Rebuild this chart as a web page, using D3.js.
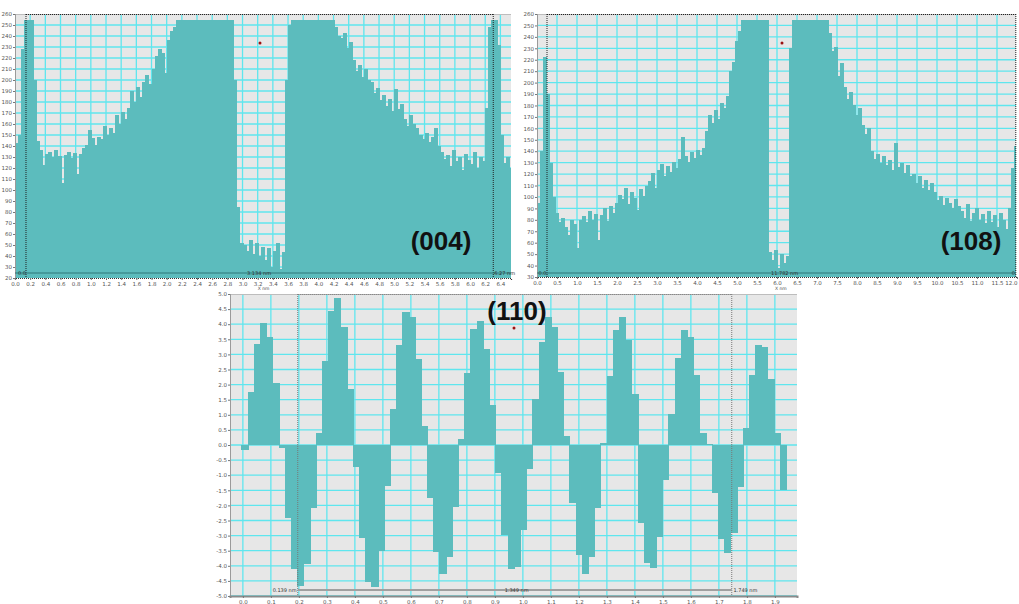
<!DOCTYPE html>
<html>
<head>
<meta charset="utf-8">
<script src="https://cdn.jsdelivr.net/npm/d3@7"></script>
<style>
  body { margin: 0; background: #fff; }
  svg { display: block; }
</style>
</head>
<body>
<svg id="chart" width="1019" height="604"></svg>
<script>
// ---------- (004) intensity profile ----------
const p004Step = 0.04;   // nm per sample
const p004Values = [
  143, 150, 228, 255, 255, 255, 200, 145,
  136, 123, 133, 135, 130, 136, 131, 106, 132, 135, 129, 134, 115, 133,
  138, 141, 155, 147, 141, 148, 146,
  158, 150, 156, 152,
  168, 160, 171, 165, 175,
  190, 180, 194, 185,
  198, 205, 196,
  210, 222, 228, 225, 206,
  236, 245, 248, 255,
  255, 255, 255, 255, 255, 255, 255, 255, 255, 255, 255, 255, 255, 255, 255, 255, 255, 255,
  200, 85, 52,
  50, 45, 55, 42, 52, 40, 48, 36, 47, 30, 45, 52, 28, 44,
  200, 250,
  255, 255, 255, 255, 255, 255, 255, 255, 255, 255, 255, 255, 255, 255, 248, 240,
  238, 243, 229, 235,
  218, 208, 214, 203, 210, 200,
  198, 188, 193, 182, 186,
  176, 183, 172, 192, 174, 178,
  165, 158, 168, 160, 156,
  150, 146, 152, 144, 148, 156, 140,
  135, 128, 132, 122, 136, 126, 130, 118, 133, 127, 124, 135, 120, 130, 126,
  175, 248, 255, 255, 232, 150, 125, 130, 120
];
const p004XTickLabels = ["0.0","0.2","0.4","0.6","0.8","1.0","1.2","1.4","1.6","1.8","2.0","2.2","2.4","2.6","2.8","3.0","3.2","3.4","3.6","3.8","4.0","4.2","4.4","4.6","4.8","5.0","5.2","5.4","5.6","5.8","6.0","6.2","6.4"];
const p004YTickLabels = ["20","30","40","50","60","70","80","90","100","110","120","130","140","150","160","170","180","190","200","210","220","230","240","250","260"];
const p004Cursors = [0.145, 6.306];
const p004Notes = ["0.0", "3.134 nm", "6.27 nm"];

// ---------- (108) intensity profile ----------
const p108Step = 0.075;  // nm per sample
const p108Values = [
  95, 140, 222, 190, 130, 100,
  86, 78, 82, 74, 67, 80, 76, 55, 80,
  83, 78, 88, 80, 85, 62, 84, 90, 79, 92, 86,
  95, 102, 98, 108, 94, 104, 99, 89, 107, 101, 110,
  114, 121, 108, 124, 129, 118, 127, 122, 131, 125, 133,
  152, 136, 131, 139, 134, 141, 137, 143,
  158, 172, 165, 176, 168, 182, 178, 188,
  210, 218, 236, 245,
  255, 255, 255, 255, 255, 255, 255, 255, 255,
  52, 45, 54, 38, 50, 42, 48,
  230,
  255, 255, 255, 255, 255, 255, 255, 255, 255, 255, 255, 255,
  243, 228, 231, 206, 217, 196, 186, 192, 180, 172, 178, 163, 155, 160,
  140, 133, 138, 130, 136, 128,
  132, 124, 147, 126, 130, 121, 128, 118,
  120, 112, 118, 108, 115, 106, 112,
  104, 97, 101, 93, 99, 95, 90, 98, 92,
  88, 82, 94, 79, 86, 90, 80, 85, 77, 88,
  78, 84, 74, 86, 80, 72, 90,
  125, 145
];
const p108XTickLabels = ["0.0","0.5","1.0","1.5","2.0","2.5","3.0","3.5","4.0","4.5","5.0","5.5","6.0","6.5","7.0","7.5","8.0","8.5","9.0","9.5","10.0","10.5","11.0","11.5","12.0"];
const p108YTickLabels = ["30","40","50","60","70","80","90","100","110","120","130","140","150","160","170","180","190","200","210","220","230","240","250","260"];
const p108Cursors = [0.25, 11.97];
const p108Notes = ["0.0", "11.782 nm", "0"];

// ---------- (110) line profile ----------
const p110Start = -0.005;
const p110Step = 0.0221; // nm per sample
const p110Values = [
  -0.17, 1.75, 3.34, 4.03, 3.58, 2.05,
  -0.10, -2.42, -4.10, -4.67, -3.94, -2.08,
  0.40, 2.78, 4.44, 4.87, 3.90, 1.85,
  -0.73, -3.08, -4.53, -4.70, -3.50, -1.35,
  1.19, 3.31, 4.40, 4.24, 2.85, 0.63,
  -1.75, -3.54, -4.27, -3.70, -2.05,
  0.20, 2.38, 3.84, 4.10, 3.18, 1.33,
  -0.93, -2.97, -4.10, -4.05, -2.82, -0.80,
  1.52, 3.40, 4.24, 3.90, 2.42, 0.30,
  -1.92, -3.64, -4.27, -3.71, -2.09,
  0.07, 2.28, 3.80, 4.24, 3.48, 1.69,
  -2.58, -3.90, -4.07, -3.05, -1.15,
  1.03, 2.88, 3.80, 3.58, 2.32, 0.40, 0.02,
  -1.60, -3.10, -3.57, -2.90, -1.38,
  0.57, 2.32, 3.30, 3.25, 2.18, 0.40,
  -1.50
];
const p110XTickLabels = ["0.0","0.1","0.2","0.3","0.4","0.5","0.6","0.7","0.8","0.9","1.0","1.1","1.2","1.3","1.4","1.5","1.6","1.7","1.8","1.9"];
const p110YTickLabels = ["-5.0","-4.5","-4.0","-3.5","-3.0","-2.5","-2.0","-1.5","-1.0","-0.5","0.0","0.5","1.0","1.5","2.0","2.5","3.0","3.5","4.0","4.5","5.0"];
const p110Cursors = [0.196, 1.746];
const p110Notes = ["0.139 nm", "1.349 nm", "1.749 nm"];

// ---------- styling ----------
const BAR = "#5cbcbd";
const PLOT_BG = "#e7e7e7";
const GRID = "#5fe6ee";
const TICK_TEXT = "#555";

const svg = d3.select("#chart");
const defs = svg.append("defs");

function drawPanel(cfg) {
  const x = d3.scaleLinear().domain(cfg.xDomain).range([cfg.left, cfg.right]);
  const y = d3.scaleLinear().domain(cfg.yDomain).range([cfg.bottom, cfg.top]);
  const w = cfg.right - cfg.left, h = cfg.bottom - cfg.top;
  const clipId = "clip-" + cfg.id;
  defs.append("clipPath").attr("id", clipId)
    .append("rect").attr("x", cfg.left).attr("y", cfg.top).attr("width", w).attr("height", h);

  const g = svg.append("g");
  g.append("rect").attr("x", cfg.left).attr("y", cfg.top).attr("width", w).attr("height", h)
    .attr("fill", PLOT_BG);

  const xTicks = cfg.xTickLabels.map(Number);
  const yTicks = cfg.yTickLabels.map(Number);

  // grid
  const grid = g.append("g").attr("clip-path", `url(#${clipId})`)
    .attr("stroke", GRID).attr("stroke-width", 1.3);
  grid.selectAll("line.v").data(xTicks).join("line").attr("class", "v")
    .attr("x1", d => x(d)).attr("x2", d => x(d)).attr("y1", cfg.top).attr("y2", cfg.bottom);
  grid.selectAll("line.h").data(yTicks).join("line").attr("class", "h")
    .attr("y1", d => y(d)).attr("y2", d => y(d)).attr("x1", cfg.left).attr("x2", cfg.right);

  // bars
  const base = cfg.base;
  const x0 = i => Math.round(x(cfg.start + i * cfg.step));
  g.append("g").attr("clip-path", `url(#${clipId})`)
    .attr("shape-rendering", "crispEdges")
    .selectAll("rect").data(cfg.values).join("rect")
    .attr("x", (d, i) => x0(i))
    .attr("width", (d, i) => x0(i + 1) - x0(i) + 1)
    .attr("y", d => y(Math.max(d, base)))
    .attr("height", d => Math.abs(y(d) - y(base)))
    .attr("fill", BAR);

  // frame
  g.append("line").attr("x1", cfg.left).attr("x2", cfg.right).attr("y1", cfg.top + 0.5).attr("y2", cfg.top + 0.5)
    .attr("stroke", "#bdbdbd").attr("stroke-width", 1);
  g.append("line").attr("x1", x(cfg.cursors[0])).attr("x2", x(cfg.cursors[1]))
    .attr("y1", cfg.top + 0.5).attr("y2", cfg.top + 0.5)
    .attr("stroke", cfg.cursorColor).attr("stroke-width", 1).attr("stroke-dasharray", "1,1");
  g.append("line").attr("x1", cfg.left + 0.5).attr("x2", cfg.left + 0.5).attr("y1", cfg.top).attr("y2", cfg.bottom)
    .attr("stroke", "#9a9a9a").attr("stroke-width", 1);

  // cursors
  g.selectAll("line.cursor").data(cfg.cursors).join("line").attr("class", "cursor")
    .attr("x1", d => x(d)).attr("x2", d => x(d)).attr("y1", cfg.top).attr("y2", cfg.bottom)
    .attr("stroke", cfg.cursorColor).attr("stroke-width", 1).attr("stroke-dasharray", "1,1");

  // axes
  const yAxis = d3.axisLeft(y).tickValues(yTicks)
    .tickFormat((d, i) => cfg.yTickLabels[i]).tickSize(2).tickPadding(1);
  const ya = g.append("g").attr("transform", `translate(${cfg.left},0)`).call(yAxis);
  ya.select(".domain").remove();
  ya.selectAll("line").attr("stroke", "#777");
  ya.selectAll("text").attr("font-size", 5.5).attr("fill", TICK_TEXT)
    .attr("font-family", "DejaVu Sans, sans-serif");

  const xAxis = d3.axisBottom(x).tickValues(xTicks)
    .tickFormat((d, i) => cfg.xTickLabels[i]).tickSize(2).tickPadding(2);
  const xa = g.append("g").attr("transform", `translate(0,${cfg.bottom})`).call(xAxis);
  xa.select(".domain").attr("stroke", cfg.bottomColor).attr("stroke-width", cfg.bottomWidth)
    .attr("stroke-dasharray", cfg.bottomDash);
  xa.selectAll("line").attr("stroke", "#777");
  xa.selectAll("text").attr("font-size", 5.5).attr("fill", TICK_TEXT)
    .attr("font-family", "DejaVu Sans, sans-serif")
    .attr("text-anchor", d => (x(d) > cfg.right - 3 ? "end" : "middle"));

  return { x, y, g };
}

// (004)
const a = drawPanel({
  id: "p004", left: 15, right: 511, top: 14, bottom: 278,
  xDomain: [0, 6.54], yDomain: [20, 260], base: 20,
  start: 0, step: p004Step, values: p004Values,
  xTickLabels: p004XTickLabels, yTickLabels: p004YTickLabels,
  cursors: p004Cursors, cursorColor: "#222",
  bottomColor: "#333", bottomWidth: 1.2, bottomDash: "1,1"
});
// (108)
const b = drawPanel({
  id: "p108", left: 537, right: 1016, top: 14, bottom: 277,
  xDomain: [0, 11.975], yDomain: [30, 260], base: 30,
  start: 0, step: p108Step, values: p108Values,
  xTickLabels: p108XTickLabels, yTickLabels: p108YTickLabels,
  cursors: p108Cursors, cursorColor: "#222",
  bottomColor: "#333", bottomWidth: 1.2, bottomDash: "1,1"
});
// (110)
const c = drawPanel({
  id: "p110", left: 230, right: 797, top: 294, bottom: 596,
  xDomain: [-0.046, 1.979], yDomain: [-5, 5], base: 0,
  start: p110Start, step: p110Step, values: p110Values,
  xTickLabels: p110XTickLabels, yTickLabels: p110YTickLabels,
  cursors: p110Cursors, cursorColor: "#777",
  bottomColor: "#8a8a8a", bottomWidth: 2, bottomDash: null
});

// measurement rulers
function ruler(p, yv, x1, x2, color, width) {
  p.g.append("line").attr("x1", p.x(x1)).attr("x2", p.x(x2))
    .attr("y1", yv).attr("y2", yv).attr("stroke", color).attr("stroke-width", width);
}
function note(p, xv, yv, txt, anchor) {
  p.g.append("text").attr("x", p.x(xv)).attr("y", yv).attr("text-anchor", anchor || "start")
    .attr("font-size", 5).attr("fill", "#333").attr("font-family", "DejaVu Sans, sans-serif")
    .text(txt);
}
ruler(a, 273, 0, 6.54, "#2f7778", 1);
note(a, 0.04, 275, p004Notes[0]);
note(a, 3.06, 275, p004Notes[1]);
note(a, 6.32, 275, p004Notes[2]);
a.g.append("text").attr("x", a.x(3.2)).attr("y", 290).attr("font-size", 4.5).attr("fill", "#444")
  .attr("font-family", "DejaVu Sans, sans-serif").text("X nm");

ruler(b, 273, 0, 11.975, "#2f7778", 1);
note(b, 0.04, 275, p108Notes[0]);
note(b, 5.85, 275, p108Notes[1]);
note(b, 11.95, 275, p108Notes[2], "end");
b.g.append("text").attr("x", b.x(5.95)).attr("y", 290).attr("font-size", 4.5).attr("fill", "#444")
  .attr("font-family", "DejaVu Sans, sans-serif").text("X nm");

ruler(c, 590, p110Cursors[0], p110Cursors[1], "#a0a0a0", 2);
note(c, 0.192, 592, p110Notes[0], "end");
note(c, 0.935, 592, p110Notes[1]);
note(c, 1.752, 592, p110Notes[2]);

// selection points
[[a, 260, 43], [b, 782, 43], [c, 514, 328]].forEach(([p, px, py]) => {
  p.g.append("circle").attr("cx", px).attr("cy", py).attr("r", 1.5).attr("fill", "#9b1111");
});

// reflection labels
const labels = [["(004)", 441, 250], ["(108)", 971, 250], ["(110)", 517, 320]];
svg.selectAll("text.refl").data(labels).join("text").attr("class", "refl")
  .attr("x", d => d[1]).attr("y", d => d[2]).attr("text-anchor", "middle")
  .attr("font-family", "Liberation Sans, Arial, sans-serif").attr("font-weight", "bold")
  .attr("font-size", 26).attr("fill", "#111").text(d => d[0]);
</script>
</body>
</html>
